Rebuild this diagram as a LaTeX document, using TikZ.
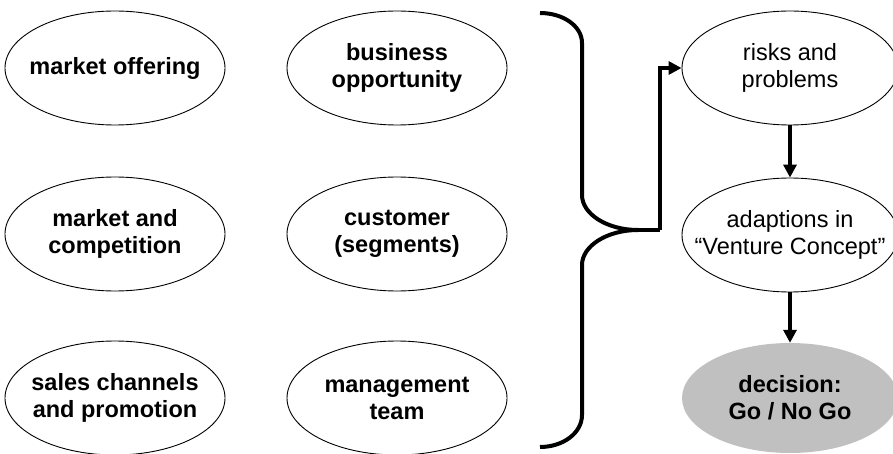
\documentclass[tikz,border=0pt]{standalone}
\usepackage{fontspec}
\setmainfont{Liberation Sans}
\usetikzlibrary{shapes.geometric,arrows.meta}
\begin{document}
\begin{tikzpicture}[x=1pt,y=-1pt,
  base/.style={ellipse,inner xsep=-80pt,inner ysep=-30pt,align=center,font=\fontsize{23.5}{27}\selectfont},
  oval/.style={base,draw=black,line width=0.9pt,minimum width=220pt,minimum height=114pt,font=\fontsize{23.5}{27}\selectfont\bfseries},
  rovals/.style={base,draw=black,line width=0.9pt,minimum width=216pt,minimum height=114pt},
  decis/.style={base,fill={rgb,255:red,192;green,192;blue,192},minimum width=216pt,minimum height=110pt,font=\fontsize{23.5}{27}\selectfont\bfseries},
  bracestyle/.style={line width=4pt},
  flow/.style={line width=3.5pt,-{Triangle[length=13pt,width=13pt]}}
]
\useasboundingbox (0,0) rectangle (893,454);
\node[oval] (mo) at (115,68) {market offering};
\node[oval] (bo) at (397,68) {business\\opportunity};
\node[oval] (mc) at (115,234) {market and\\competition};
\node[oval] (cs) at (397,234) {customer\\(segments)};
\node[oval] (sc) at (115,398) {sales channels\\and promotion};
\node[oval] (mt) at (397,398) {management\\team};
\node[rovals] (rp) at (790,68) {risks and\\problems};
\node[rovals] (ad) at (790,235) {adaptions in\\“Venture Concept”};
\node[decis] (dc) at (790,398) {decision:\\Go / No Go};
\coordinate (tip) at (638,230);
\coordinate (bend) at (660,230);
\draw[bracestyle] (540,13) .. controls (563,13) and (582,26) .. (582,43)
  -- (582,195) .. controls (582,214) and (607,230) .. (tip)
  .. controls (607,230) and (582,246) .. (582,265)
  -- (582,415) .. controls (582,433) and (563,447) .. (540,447);
\draw[line width=3.5pt] (tip) -- (bend);
\draw[flow] (bend) |- (rp.west);
\draw[flow] (rp.south) -- (ad.north);
\draw[flow] (ad.south) -- (dc.north);
\end{tikzpicture}
\end{document}
